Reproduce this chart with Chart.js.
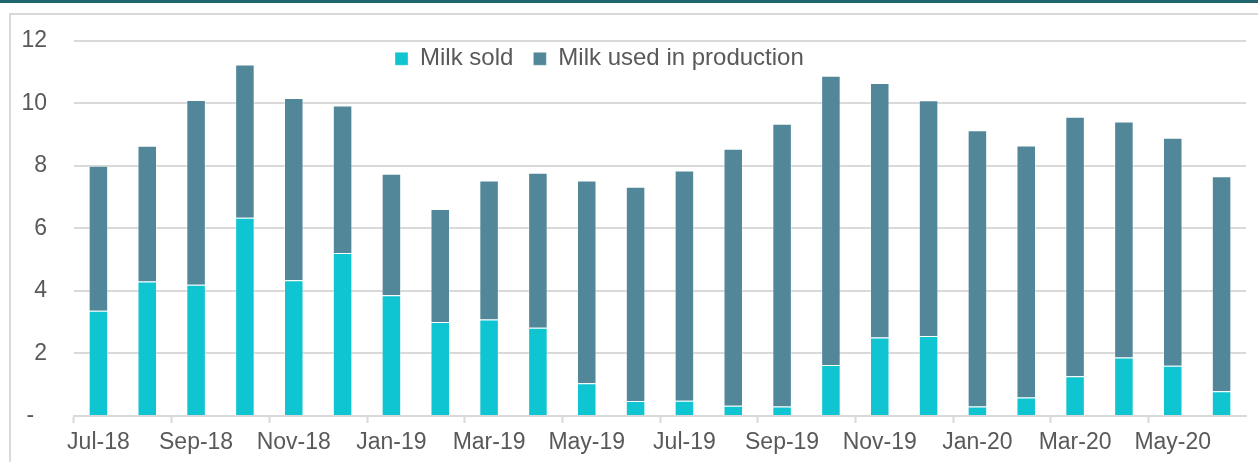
<!DOCTYPE html>
<html>
<head>
<meta charset="utf-8">
<script src="https://cdn.jsdelivr.net/npm/chart.js@4/dist/chart.umd.min.js"></script>
<style>
  body { margin: 0; background: #fff; }
  #wrap { position: relative; width: 1258px; height: 462px; overflow: hidden; }
  #topbar { position: absolute; left: 0; top: 0; width: 1258px; height: 3px; background: #21666f; }
  #frame { position: absolute; left: 9px; top: 13px; width: 1300px; height: 500px; border: 2px solid #d9d9d9; box-sizing: border-box; }
  #chart { position: absolute; left: 0; top: 0; }
</style>
</head>
<body>
<div id="wrap">
  <div id="topbar"></div>
  <div id="frame"></div>
  <canvas id="chart" width="1258" height="462"></canvas>
</div>
<script>
// months shown on the x axis (every other one gets a label)
const months = [
  'Jul-18', 'Aug-18', 'Sep-18', 'Oct-18', 'Nov-18', 'Dec-18',
  'Jan-19', 'Feb-19', 'Mar-19', 'Apr-19', 'May-19', 'Jun-19',
  'Jul-19', 'Aug-19', 'Sep-19', 'Oct-19', 'Nov-19', 'Dec-19',
  'Jan-20', 'Feb-20', 'Mar-20', 'Apr-20', 'May-20', 'Jun-20'
];

// values
const milkSold = [
  3.37, 4.30, 4.20, 6.34, 4.34, 5.21,
  3.86, 3.01, 3.09, 2.82, 1.05, 0.48,
  0.49, 0.33, 0.30, 1.63, 2.51, 2.56,
  0.30, 0.59, 1.27, 1.87, 1.61, 0.79
];
const milkUsed = [
  4.63, 4.34, 5.91, 4.90, 5.83, 4.72,
  3.89, 3.61, 4.44, 4.96, 6.48, 6.85,
  7.36, 8.22, 9.05, 9.25, 8.14, 7.54,
  8.84, 8.06, 8.30, 7.55, 7.29, 6.88
];

const yTicks = [0, 2, 4, 6, 8, 10, 12];

const textColor = '#595959';
const gridColor = '#d9d9d9';
const fontFamily = '"Liberation Sans", Arial, sans-serif';

// legend sits inside the plot on one row, like the original
const legendShift = {
  id: 'legendShift',
  beforeLayout(chart) {
    if (chart.legend) chart.legend.isHorizontal = () => true;
  },
  afterLayout(chart) {
    const area = chart.chartArea;
    chart.legend.left = area.left + 301;
    chart.legend.top = area.top - 14;
  }
};

new Chart(document.getElementById('chart'), {
  type: 'bar',
  data: {
    labels: months,
    datasets: [
      {
        label: 'Milk sold',
        data: milkSold,
        backgroundColor: '#0fc5d1',
        borderColor: 'rgba(255,255,255,0.35)',
        borderWidth: 1,
        barPercentage: 0.4,
        categoryPercentage: 1
      },
      {
        label: 'Milk used in production',
        data: milkUsed,
        backgroundColor: '#528799',
        borderColor: 'rgba(255,255,255,0.35)',
        borderWidth: 1,
        barPercentage: 0.4,
        categoryPercentage: 1
      }
    ]
  },
  options: {
    responsive: false,
    devicePixelRatio: 1,
    animation: false,
    layout: { padding: { left: 0, right: 12, top: 39, bottom: 0 } },
    plugins: {
      tooltip: { enabled: false },
      legend: {
        position: 'chartArea',
        align: 'start',
        labels: {
          boxWidth: 13,
          boxHeight: 13,
          padding: 20,
          color: textColor,
          font: { family: fontFamily, size: 24 }
        }
      }
    },
    scales: {
      x: {
        stacked: true,
        afterFit: s => { s.height = 46; },
        border: { display: true, color: gridColor, width: 2 },
        grid: {
          offset: true,
          drawOnChartArea: false,
          tickLength: 7,
          tickWidth: 2,
          tickColor: ctx => ctx.index % 2 === 0 ? gridColor : 'rgba(0,0,0,0)'
        },
        ticks: {
          autoSkip: false,
          maxRotation: 0,
          padding: 6,
          color: textColor,
          font: { family: fontFamily, size: 23 },
          callback: (v, i) => i % 2 === 0 ? months[i] : ''
        }
      },
      y: {
        stacked: true,
        min: 0,
        max: 12,
        afterFit: s => { s.width = 74; },
        afterBuildTicks: s => { s.ticks = yTicks.map(v => ({ value: v })); },
        border: { display: false },
        grid: { color: gridColor, lineWidth: 2, drawTicks: false },
        ticks: {
          padding: 27,
          color: textColor,
          font: { family: fontFamily, size: 23 },
          callback: v => v === 0 ? '-  ' : v
        }
      }
    }
  },
  plugins: [legendShift]
});
</script>
</body>
</html>
